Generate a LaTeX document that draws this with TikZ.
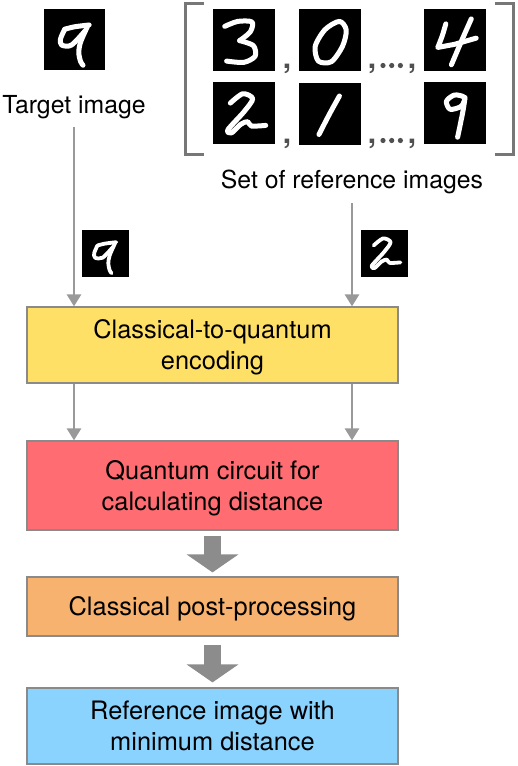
\documentclass[tikz,border=0pt]{standalone}
\usepackage{fontspec}
\setmainfont{TeX Gyre Heros}
\usetikzlibrary{arrows.meta}
\definecolor{encY}{HTML}{FFE066}
\definecolor{qcR}{HTML}{FF6C72}
\definecolor{ppO}{HTML}{F7B26F}
\definecolor{resB}{HTML}{8AD3FF}
\definecolor{boxgray}{HTML}{8A8A8A}
\definecolor{arrgray}{HTML}{999999}
\definecolor{fatgray}{HTML}{8C8C8C}
\definecolor{brgray}{HTML}{777777}
\definecolor{sepgray}{HTML}{505050}
\tikzset{
  stroke/.style={draw=white, line cap=round, line join=round},
  pics/dthree/.style={code={
    \draw[stroke] plot[smooth] coordinates {(0.19,0.28) (0.4,0.2) (0.63,0.21) (0.6,0.37) (0.43,0.51)};
    \draw[stroke] plot[smooth] coordinates {(0.43,0.51) (0.65,0.59) (0.68,0.76) (0.5,0.86) (0.22,0.84)};
  }},
  pics/dzero/.style={code={
    \draw[stroke] plot[smooth cycle] coordinates {(0.66,0.2) (0.77,0.34) (0.71,0.6) (0.53,0.85) (0.32,0.84) (0.27,0.6) (0.43,0.33)};
  }},
  pics/dfour/.style={code={
    \draw[stroke] plot[smooth] coordinates {(0.36,0.24) (0.3,0.44) (0.23,0.62)} -- (0.5,0.57) -- (0.85,0.47);
    \draw[stroke] plot[smooth] coordinates {(0.77,0.16) (0.62,0.5) (0.45,0.9)};
  }},
  pics/dtwo/.style={code={
    \draw[stroke] plot[smooth] coordinates {(0.28,0.34) (0.48,0.19) (0.64,0.27) (0.5,0.48) (0.24,0.77) (0.3,0.82) (0.45,0.68) (0.56,0.64) (0.62,0.71) (0.85,0.7)};
  }},
  pics/done/.style={code={
    \draw[stroke] plot[smooth] coordinates {(0.66,0.21) (0.5,0.5) (0.33,0.83)};
  }},
  pics/dnine/.style={code={
    \draw[stroke] plot[smooth cycle] coordinates {(0.66,0.25) (0.5,0.21) (0.37,0.31) (0.43,0.44) (0.61,0.39)};
    \draw[stroke] plot[smooth] coordinates {(0.67,0.25) (0.64,0.45) (0.59,0.7) (0.55,0.89)};
  }},
  pics/dninet/.style={code={
    \draw[stroke] plot[smooth] coordinates {(0.34,0.34) (0.5,0.3) (0.74,0.27)};
    \draw[stroke] plot[smooth] coordinates {(0.34,0.34) (0.27,0.5) (0.29,0.6) (0.45,0.6) (0.67,0.37)};
    \draw[stroke] plot[smooth] coordinates {(0.71,0.3) (0.6,0.55) (0.57,0.72) (0.6,0.87) (0.64,0.93)};
  }}
}
\begin{document}
\begin{tikzpicture}[x=1pt,y=-1pt,
  img/.style={fill=black, inner sep=0pt, outer sep=0pt, minimum size=#1},
  lbl/.style={inner sep=0pt, anchor=base, font=\fontsize{24.8}{28}\selectfont},
  comma/.style={inner sep=0pt, anchor=base, text=sepgray, font=\fontsize{30}{34}\selectfont\bfseries},
  dot/.style={fill=sepgray, circle, inner sep=0pt, minimum size=5.2pt},
  box/.style={draw=boxgray, line width=1.2pt, minimum width=371pt, inner sep=0pt, align=center, text depth=0pt, font=\fontsize{25.4}{31}\selectfont},
  thinarrow/.style={draw=arrgray, line width=2.6pt, -{Triangle[width=14pt,length=12pt]}},
  fatarrow/.style={draw=fatgray, line width=17pt, -{Triangle[width=51pt,length=18pt]}},
  bracket/.style={draw=brgray, line width=3pt}
]
\useasboundingbox (0,0) rectangle (518,766);

% target image
\node[img=61pt] (t9) at (74.5,39) {};
\pic[line width=5pt, scale=61] at (t9.north west) {dninet};
\node[lbl] (tlbl) at (74,113) {Target image};

% reference images
\node[img=62pt] (r3) at (244,40) {};
\node[img=62pt] (r0) at (329.5,40) {};
\node[img=62pt] (r4) at (454.5,40) {};
\node[img=62pt] (r2) at (244,113) {};
\node[img=62pt] (r1) at (329.5,114) {};
\node[img=62pt] (r9) at (454.5,113) {};
\pic[line width=5pt, scale=62] at (r3.north west) {dthree};
\pic[line width=5pt, scale=62] at (r0.north west) {dzero};
\pic[line width=5pt, scale=62] at (r4.north west) {dfour};
\pic[line width=5pt, scale=62] at (r2.north west) {dtwo};
\pic[line width=5pt, scale=62] at (r1.north west) {done};
\pic[line width=5pt, scale=62] at (r9.north west) {dnine};
% separators, row 1
\node[comma] (c1) at (287,68) {,};
\node[comma] (c2) at (372,68) {,};
\node[dot] (d1) at (383,65.5) {};
\node[dot] (d2) at (391.7,65.5) {};
\node[dot] (d3) at (400.4,65.5) {};
\node[comma] (c3) at (412,68) {,};
% separators, row 2
\node[comma] (c4) at (287,143) {,};
\node[comma] (c5) at (372,143) {,};
\node[dot] (d4) at (383,140.5) {};
\node[dot] (d5) at (391.7,140.5) {};
\node[dot] (d6) at (400.4,140.5) {};
\node[comma] (c6) at (412,143) {,};
\draw[bracket] (204,3) -- (185,3) -- (185,154) -- (204,154);
\draw[bracket] (495,3) -- (513,3) -- (513,154) -- (495,154);
\node[lbl] (rlbl) at (352,188) {Set of reference images};

% small images beside arrows
\node[img=47pt] (s9) at (105,253) {};
\pic[line width=3.8pt, scale=47] at (s9.north west) {dninet};
\node[img=47pt] (s2) at (384,253) {};
\pic[line width=3.8pt, scale=47] at (s2.north west) {dtwo};

% boxes
\node[box, fill=encY, minimum height=76pt] (enc) at (212.5,345) {Classical-to-quantum\\encoding};
\node[box, fill=qcR, minimum height=89pt] (qc) at (212.5,485.5) {Quantum circuit for\\calculating distance};
\node[box, fill=ppO, minimum height=59pt] (pp) at (212.5,606.5) {Classical post-processing};
\node[box, fill=resB, minimum height=76pt] (res) at (212.5,726) {Reference image with\\minimum distance};

% thin arrows
\coordinate (la) at (74,127);
\coordinate (ra) at (352,203);
\draw[thinarrow] (la) -- (la |- enc.north);
\draw[thinarrow] (ra) -- (ra |- enc.north);
\draw[thinarrow] (la |- enc.south) -- (la |- qc.north);
\draw[thinarrow] (ra |- enc.south) -- (ra |- qc.north);

% fat arrows
\draw[fatarrow, shorten <=5pt, shorten >=4pt] (qc.south) -- (pp.north);
\draw[fatarrow, shorten <=8pt, shorten >=5pt] (pp.south) -- (res.north);
\end{tikzpicture}
\end{document}
